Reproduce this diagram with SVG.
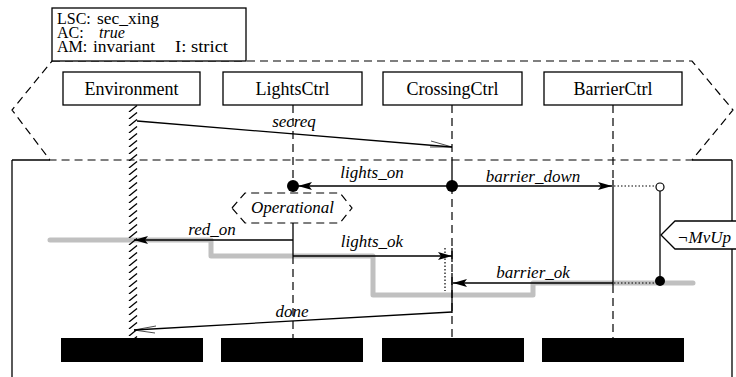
<svg xmlns="http://www.w3.org/2000/svg" width="736" height="377" viewBox="0 0 736 377">
<style>
.box{fill:#fff;stroke:#000;stroke-width:1.3}
.name{font-family:'Liberation Serif','Times New Roman','DejaVu Serif',serif;font-size:18px;text-anchor:middle;fill:#000}
.hdr{font-family:'Liberation Serif','Times New Roman','DejaVu Serif',serif;font-size:16px;fill:#000}
.lbl{font-family:'Liberation Serif','Times New Roman','DejaVu Serif',serif;font-style:italic;font-size:17px;text-anchor:middle;fill:#000}
.dash{stroke:#000;stroke-width:1.2;stroke-dasharray:8,5;fill:none}
.ln{stroke:#000;stroke-width:1.3;fill:none}
.thin{stroke:#000;stroke-width:0.7;fill:none}
.dot{stroke:#000;stroke-width:1.2;stroke-dasharray:1.5,2;fill:none}
.gray{stroke:#c0c0c0;stroke-width:5;fill:none;stroke-linejoin:round;stroke-linecap:round}
.bar{fill:#000}
</style>
<defs>
<marker id="ah" markerUnits="userSpaceOnUse" markerWidth="14" markerHeight="10" refX="14" refY="4" orient="auto">
<path d="M0,0 L14,4 L0,8 L3,4 z" fill="#000"/>
</marker>
<pattern id="hatch" patternUnits="userSpaceOnUse" x="128" y="105" width="10" height="7">
<line x1="1" y1="7" x2="9" y2="0.5" stroke="#000" stroke-width="1.3"/>
</pattern>
</defs>

<polygon id="prechart" points="52,61 692,61 733,110 692,160 50,160 12,110" class="dash" stroke-dasharray="9,5"/>

<g id="mainchart">
<line x1="12" y1="160" x2="12" y2="377" class="ln"/>
<line x1="732" y1="160" x2="732" y2="377" class="ln"/>
<line x1="12" y1="160" x2="50" y2="160" class="ln"/>
<line x1="692" y1="160" x2="732" y2="160" class="ln"/>
</g>

<g id="header">
<rect x="52" y="8" width="194" height="53" class="box"/>
<text class="hdr" x="57" y="24">LSC:</text>
<text class="hdr" x="97" y="24" textLength="62" lengthAdjust="spacingAndGlyphs">sec_xing</text>
<text class="hdr" x="57" y="38">AC:</text>
<text class="hdr" x="99" y="38" font-style="italic">true</text>
<text class="hdr" x="57" y="52">AM:</text>
<text class="hdr" x="93" y="52" textLength="62" lengthAdjust="spacingAndGlyphs">invariant</text>
<text class="hdr" x="175" y="52" textLength="53" lengthAdjust="spacingAndGlyphs">I: strict</text>
</g>

<path id="cut" d="M50,240 H211 V256 H373 V295 H533 V283 H693" class="gray"/>

<g id="lifelines">
<rect x="128" y="105" width="10" height="233" fill="url(#hatch)"/>
<line x1="293" y1="105" x2="293" y2="193" class="dash"/>
<line x1="293" y1="223" x2="293" y2="256" class="ln"/>
<line x1="293" y1="256" x2="293" y2="338" class="dash"/>
<line x1="452" y1="105" x2="452" y2="160" class="dash"/>
<line x1="452" y1="160" x2="452" y2="186" class="ln"/>
<line x1="452" y1="186" x2="452" y2="338" class="dash"/>
<line x1="452" y1="248" x2="452" y2="262" class="ln"/>
<line x1="452" y1="273" x2="452" y2="313" class="ln"/>
<line x1="613" y1="105" x2="613" y2="180" class="dash"/>
<line x1="613" y1="180" x2="613" y2="285" class="ln"/>
<line x1="613" y1="285" x2="613" y2="338" class="dash"/>
<line x1="445" y1="248" x2="445" y2="291" class="dot"/>
</g>

<g id="Environment"><rect x="63" y="72" width="137" height="33" class="box"/><text class="name" x="131.5" y="95">Environment</text></g>
<g id="LightsCtrl"><rect x="223" y="72" width="139" height="33" class="box"/><text class="name" x="292.5" y="95">LightsCtrl</text></g>
<g id="CrossingCtrl"><rect x="383" y="72" width="139" height="33" class="box"/><text class="name" x="452.5" y="95">CrossingCtrl</text></g>
<g id="BarrierCtrl"><rect x="544" y="72" width="138" height="33" class="box"/><text class="name" x="613" y="95">BarrierCtrl</text></g>

<g id="connectors">
<line x1="137" y1="121" x2="452" y2="147" class="ln"/>
<path d="M452,147 L431,141 M452,147 L430,147" class="thin"/>
<text class="lbl" x="294" y="127">secreq</text>

<line x1="452" y1="186" x2="298" y2="186" class="ln" marker-end="url(#ah)"/>
<text class="lbl" x="372" y="178">lights_on</text>

<line x1="452" y1="186" x2="612" y2="186" class="ln" marker-end="url(#ah)"/>
<text class="lbl" x="533" y="182">barrier_down</text>
<line x1="614" y1="186" x2="656" y2="186" class="dot"/>

<line x1="293" y1="240" x2="134" y2="240" class="ln" marker-end="url(#ah)"/>
<text class="lbl" x="212" y="235">red_on</text>

<line x1="293" y1="256" x2="452" y2="256" class="ln" marker-end="url(#ah)"/>
<text class="lbl" x="372" y="247">lights_ok</text>

<line x1="613" y1="283" x2="453" y2="283" class="ln" marker-end="url(#ah)"/>
<text class="lbl" x="533" y="278">barrier_ok</text>
<line x1="614" y1="283" x2="655" y2="283" class="dot"/>

<line x1="452" y1="312" x2="134" y2="330" class="ln"/>
<path d="M134,330 L156,326 M134,330 L155,333" class="thin"/>
<text class="lbl" x="292" y="317">done</text>

<line x1="660" y1="191" x2="660" y2="281" class="ln"/>
</g>

<g id="dots">
<circle cx="293" cy="186" r="6" fill="#000"/>
<circle cx="452" cy="186" r="6" fill="#000"/>
<circle cx="660" cy="187" r="4" fill="#fff" stroke="#000" stroke-width="1.2"/>
<circle cx="660" cy="281" r="5" fill="#000"/>
</g>

<g id="Operational">
<polygon points="232,208 245,193 340,193 352,208 340,223 245,223" fill="#fff" class="dash" stroke-dasharray="7,4"/>
<text class="lbl" x="292.5" y="213">Operational</text>
</g>

<g id="MvUp">
<polygon points="661,235 675,221 740,221 740,249 675,249" class="box"/>
<text class="lbl" x="677" y="243" style="text-anchor:start">¬MvUp</text>
</g>

<g id="bars">
<rect x="61" y="338" width="142" height="24" class="bar"/>
<rect x="221" y="338" width="142" height="24" class="bar"/>
<rect x="382" y="338" width="142" height="24" class="bar"/>
<rect x="542" y="338" width="142" height="24" class="bar"/>
</g>
</svg>
